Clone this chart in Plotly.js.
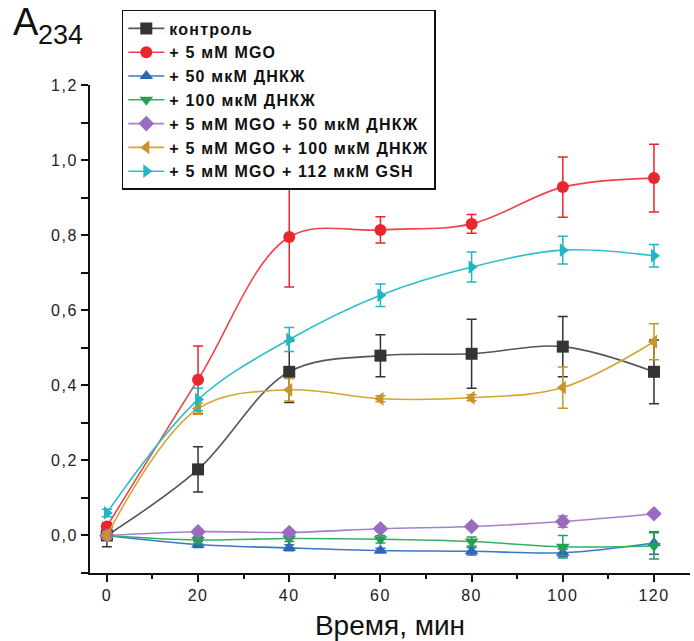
<!DOCTYPE html>
<html>
<head>
<meta charset="utf-8">
<script src="https://cdn.plot.ly/plotly-3.0.1.min.js"></script>
<style>
html,body{margin:0;padding:0;background:#fff}
#chart{width:694px;height:641px}
text.legendtext{letter-spacing:1.2px}
.xtick text,.ytick text{letter-spacing:1.5px}
</style>
</head>
<body>
<div id="chart"></div>
<script>
const timeMin = [0, 20, 40, 60, 80, 100, 120];

const names = [
  "контроль",
  "+ 5 мМ MGO",
  "+ 50 мкМ ДНКЖ",
  "+ 100 мкМ ДНКЖ",
  "+ 5 мМ MGO + 50 мкМ ДНКЖ",
  "+ 5 мМ MGO + 100 мкМ ДНКЖ",
  "+ 5 мМ MGO + 112 мкМ GSH"
];

const control      = [0.000, 0.176, 0.436, 0.479, 0.484, 0.503, 0.436];
const controlErr   = [0.030, 0.060, 0.082, 0.056, 0.092, 0.080, 0.085];
const mgo          = [0.024, 0.415, 0.795, 0.814, 0.830, 0.928, 0.952];
const mgoErr       = [0.010, 0.090, 0.133, 0.035, 0.025, 0.080, 0.090];
const dnic50       = [0.000, -0.024, -0.033, -0.040, -0.042, -0.046, -0.020];
const dnic50Err    = [0.005, 0.008, 0.008, 0.006, 0.010, 0.010, 0.030];
const dnic100      = [0.000, -0.012, -0.008, -0.010, -0.016, -0.030, -0.028];
const dnic100Err   = [0.005, 0.010, 0.008, 0.010, 0.012, 0.030, 0.035];
const mgoDnic50    = [0.000, 0.010, 0.008, 0.018, 0.024, 0.037, 0.058];
const mgoDnic50Err = [0.005, 0.005, 0.005, 0.006, 0.006, 0.015, 0.005];
const mgoDnic100   = [0.000, 0.338, 0.388, 0.364, 0.367, 0.394, 0.516];
const mgoDnic100Err= [0.010, 0.015, 0.030, 0.008, 0.008, 0.055, 0.048];
const mgoGsh       = [0.060, 0.362, 0.522, 0.640, 0.715, 0.760, 0.745];
const mgoGshErr    = [0.010, 0.030, 0.032, 0.030, 0.040, 0.037, 0.030];

const yTickVals = [0, 0.2, 0.4, 0.6, 0.8, 1.0, 1.2];
const yTickText = ["0,0", "0,2", "0,4", "0,6", "0,8", "1,0", "1,2"];
const xTickVals = [0, 20, 40, 60, 80, 100, 120];

const seriesY   = [control, mgo, dnic50, dnic100, mgoDnic50, mgoDnic100, mgoGsh];
const seriesErr = [controlErr, mgoErr, dnic50Err, dnic100Err, mgoDnic50Err, mgoDnic100Err, mgoGshErr];
const markerColors = ["#333333", "#e8262d", "#2e66b8", "#24a055", "#9a6cc0", "#c9942a", "#22b5c4"];
const lineColors   = ["#555555", "#f0424a", "#3a78c8", "#35b066", "#a77ed0", "#d6a430", "#2bc0cc"];
const symbols = ["square", "circle", "triangle-up", "triangle-down", "diamond", "triangle-left", "triangle-right"];

const traces = seriesY.map((ys, i) => ({
  type: "scatter",
  mode: "lines+markers",
  name: names[i],
  x: timeMin,
  y: ys,
  line: {color: lineColors[i], width: 1.6, shape: "spline", smoothing: 1.0},
  marker: {color: markerColors[i], symbol: symbols[i], size: 12, line: {width: 0}},
  error_y: {type: "data", array: seriesErr[i], visible: true, color: markerColors[i], thickness: 1.5, width: 5}
}));

const layout = {
  width: 694,
  height: 641,
  margin: {l: 90, r: 4, t: 85, b: 68},
  paper_bgcolor: "#ffffff",
  plot_bgcolor: "#ffffff",
  font: {family: "Liberation Sans, Arial, sans-serif", color: "#222222"},
  showlegend: true,
  legend: {
    x: 0.053, y: 1.1537, xanchor: "left", yanchor: "top",
    bordercolor: "#111111", borderwidth: 1.5, bgcolor: "#ffffff",
    font: {size: 16, color: "#111111", weight: "bold"},
    itemwidth: 36
  },
  xaxis: {
    range: [-3.7, 127.9],
    tickvals: xTickVals,
    ticks: "outside", ticklen: 7, tickwidth: 2, tickcolor: "#111",
    minor: {dtick: 10, ticks: "outside", ticklen: 4, tickwidth: 2, tickcolor: "#111"},
    showline: true, linecolor: "#111", linewidth: 2,
    showgrid: false, zeroline: false,
    tickfont: {size: 16, color: "#222"},
    title: {text: "Время, мин", font: {size: 28, color: "#111"}, standoff: 20}
  },
  yaxis: {
    range: [-0.1, 1.2],
    tickvals: yTickVals, ticktext: yTickText,
    ticks: "outside", ticklen: 7, tickwidth: 2, tickcolor: "#111",
    minor: {dtick: 0.1, tick0: 0, ticks: "outside", ticklen: 7, tickwidth: 2, tickcolor: "#111"},
    showline: true, linecolor: "#111", linewidth: 2,
    showgrid: false, zeroline: false,
    tickfont: {size: 16, color: "#222"}
  },
  annotations: [
    {
      xref: "paper", yref: "paper",
      x: -0.132, y: 1.177, xanchor: "left", yanchor: "top",
      text: "A", showarrow: false,
      font: {size: 38, color: "#111"}
    },
    {
      xref: "paper", yref: "paper",
      x: -0.09, y: 1.137, xanchor: "left", yanchor: "top",
      text: "234", showarrow: false,
      font: {size: 27, color: "#111"}
    }
  ]
};

Plotly.newPlot("chart", traces, layout, {displayModeBar: false, staticPlot: true});
</script>
</body>
</html>
